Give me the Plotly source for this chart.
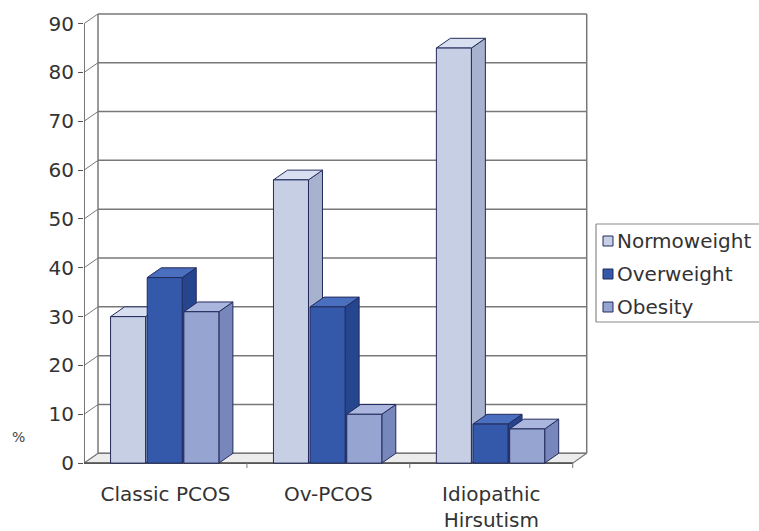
import plotly.graph_objects as go

# Data: percentage of each BMI class within each diagnostic group
categories = ["Classic PCOS", "Ov-PCOS", "Idiopathic<br>Hirsutism"]
series_names = ["Normoweight", "Overweight", "Obesity"]
normoweight = [30, 58, 85]
overweight = [38, 32, 8]
obesity = [31, 10, 7]
y_ticks = [0, 10, 20, 30, 40, 50, 60, 70, 80, 90]

series_values = [normoweight, overweight, obesity]

# Styling for the pseudo-3D column look
front_colors = ["#c6cfe4", "#3459aa", "#96a4d2"]
side_colors = ["#a7b2cf", "#25458f", "#7786bb"]
top_colors = ["#d8dff0", "#4b6fbf", "#aab6de"]
edge = "#232b5c"
grid_color = "#787878"
FONT = "DejaVu Sans, Arial, sans-serif"
FS = 20

DX = 0.086      # depth offset along x (category units)
DY = 2.0        # depth offset along y (value units)
BAR_W = 0.215
OFFSETS = [-0.337, -0.112, 0.113]
X_MIN, X_MAX = -0.5, 2.5
Y_TOP = 90

# Plot-area geometry in pixels, used to place the hand-built legend
W, H = 759, 531
ML, MR, MT, MB = 84, 170, 9, 63
PW, PH = W - ML - MR, H - MT - MB


def px_x(p):
    return (p - ML) / PW


def px_y(p):
    return 1 - (p - MT) / PH


fig = go.Figure()


def poly(xs, ys, fill, color=edge, width=1):
    fig.add_trace(go.Scatter(
        x=xs + [xs[0]], y=ys + [ys[0]], mode="lines", fill="toself",
        fillcolor=fill, line=dict(color=color, width=width),
        hoverinfo="skip", showlegend=False))


def seg(xs, ys, color=grid_color, width=1.5):
    fig.add_trace(go.Scatter(
        x=xs, y=ys, mode="lines", line=dict(color=color, width=width),
        hoverinfo="skip", showlegend=False))


# Floor
poly([X_MIN, X_MAX, X_MAX + DX, X_MIN + DX], [0, 0, DY, DY],
     "#ececec", color=grid_color, width=1.2)

# Back wall gridlines and left-wall connectors
for v in y_ticks:
    seg([X_MIN + DX, X_MAX + DX], [v + DY, v + DY])
    seg([X_MIN, X_MIN + DX], [v, v + DY], width=1.0)

# Wall edges and front value axis
seg([X_MIN + DX, X_MIN + DX], [DY, Y_TOP + DY])
seg([X_MAX + DX, X_MAX + DX], [DY, Y_TOP + DY])
seg([X_MIN, X_MIN], [0, Y_TOP], color="#555555", width=1.6)
seg([X_MIN, X_MAX], [0, 0], color="#555555", width=1.6)

# Category divider ticks on the front floor edge
for b in [0.5, 1.5, 2.5]:
    seg([b, b], [0, -1.3], color="#777777", width=1.0)

# Columns: front, side and top faces for every value
for s, vals in enumerate(series_values):
    for c, v in enumerate(vals):
        x0 = c + OFFSETS[s]
        x1 = x0 + BAR_W
        poly([x1, x1 + DX, x1 + DX, x1], [0, DY, v + DY, v], side_colors[s])
        poly([x0, x0 + DX, x1 + DX, x1], [v, v + DY, v + DY, v], top_colors[s])
        poly([x0, x1, x1, x0], [0, 0, v, v], front_colors[s])

# Legend: open frame running off the right edge, swatches and labels
lx0, lx1, ly0, ly1 = px_x(596), px_x(800), px_y(224), px_y(322)
frame = dict(color="#8a8a8a", width=1.2)
shapes = [
    dict(type="line", xref="paper", yref="paper", x0=lx0, x1=lx1, y0=ly0, y1=ly0, line=frame),
    dict(type="line", xref="paper", yref="paper", x0=lx0, x1=lx1, y0=ly1, y1=ly1, line=frame),
    dict(type="line", xref="paper", yref="paper", x0=lx0, x1=lx0, y0=ly0, y1=ly1, line=frame),
]
legend_rows = [241, 274, 307]
for s, name in enumerate(series_names):
    yc = legend_rows[s]
    shapes.append(dict(type="rect", xref="paper", yref="paper",
                       x0=px_x(603), x1=px_x(613), y0=px_y(yc - 5), y1=px_y(yc + 5),
                       line=dict(color=edge, width=1), fillcolor=front_colors[s]))
    fig.add_annotation(text=name, xref="paper", yref="paper",
                       x=px_x(615), y=px_y(yc), xanchor="left", yanchor="middle",
                       showarrow=False, font=dict(family=FONT, size=FS, color="#333333"))

fig.add_annotation(text="%", xref="paper", yref="paper", x=px_x(18), y=px_y(437),
                   xanchor="center", yanchor="middle", showarrow=False,
                   font=dict(family=FONT, size=14, color="#444444"))

fig.update_layout(
    width=W, height=H,
    margin=dict(l=ML, r=MR, t=MT, b=MB, autoexpand=False),
    paper_bgcolor="white", plot_bgcolor="white",
    font=dict(family=FONT, size=FS, color="#333333"),
    showlegend=False,
    shapes=shapes,
    xaxis=dict(range=[-0.5, 2.6], tickmode="array", tickvals=[0, 1, 2],
               ticktext=categories, showgrid=False, zeroline=False,
               showline=False, ticks="outside", ticklen=8,
               tickcolor="rgba(0,0,0,0)", tickfont=dict(size=FS),
               automargin=False, fixedrange=True),
    yaxis=dict(range=[-1, 93], tickmode="array", tickvals=y_ticks,
               showgrid=False, zeroline=False, showline=False,
               ticks="outside", ticklen=5, tickcolor="#555555",
               tickfont=dict(size=FS), automargin=False, fixedrange=True),
)

fig.write_html("out.html")
